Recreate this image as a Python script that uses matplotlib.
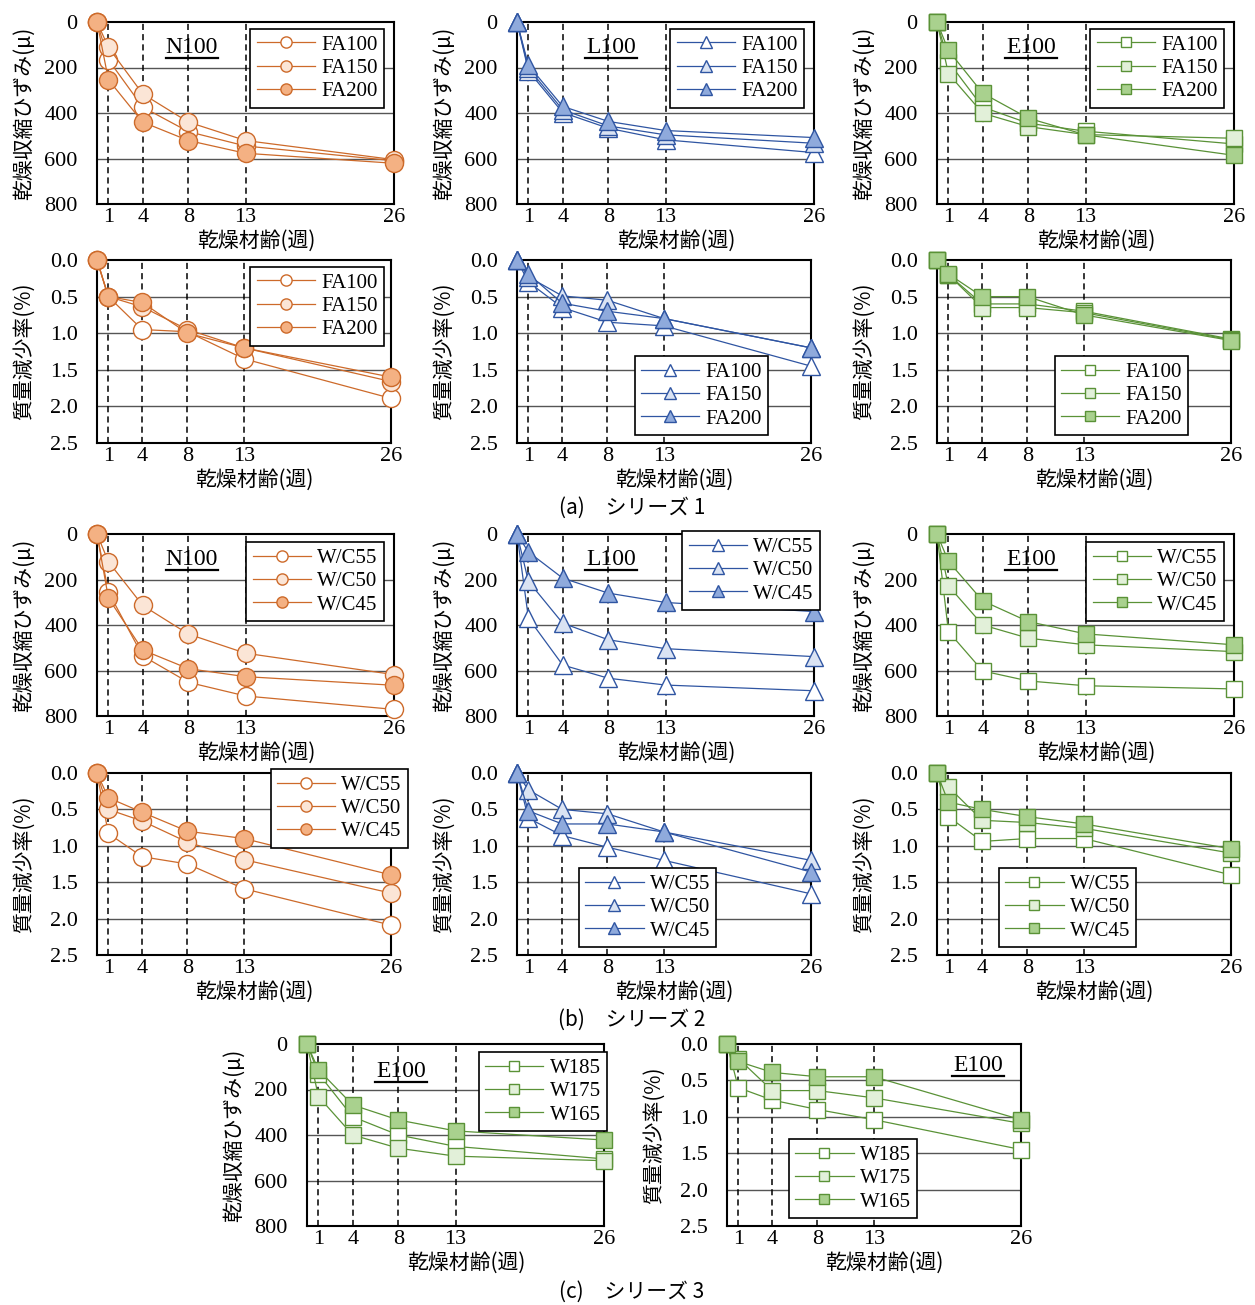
import matplotlib.pyplot as plt

SERIF = ['Liberation Serif', 'DejaVu Serif']
JP = ['Noto Sans CJK JP', 'DejaVu Sans']
plt.rcParams['font.family'] = SERIF

W, H = 1255, 1305

weeks = [0, 1, 4, 8, 13, 26]
week_ticks = [1, 4, 8, 13, 26]

fa_labels = ['FA100', 'FA150', 'FA200']
wc_labels = ['W/C55', 'W/C50', 'W/C45']
w_labels = ['W185', 'W175', 'W165']

# (a) series 1, rows follow fa_labels
n100_strain_1 = [[0, 166, 374, 482, 545, 610],
                 [0, 112, 316, 440, 521, 605],
                 [0, 254, 440, 521, 577, 621]]
n100_mass_1 = [[0, 0.50, 0.95, 0.98, 1.35, 1.89],
               [0, 0.50, 0.64, 0.95, 1.20, 1.66],
               [0, 0.50, 0.58, 1.00, 1.20, 1.60]]
l100_strain_1 = [[0, 215, 398, 467, 518, 574],
                 [0, 203, 386, 457, 496, 533],
                 [0, 190, 371, 437, 477, 508]]
l100_mass_1 = [[0, 0.30, 0.65, 0.85, 0.90, 1.45],
               [0, 0.23, 0.49, 0.55, 0.80, 1.20],
               [0, 0.19, 0.59, 0.70, 0.80, 1.20]]
e100_strain_1 = [[0, 175, 374, 445, 480, 536],
                 [0, 227, 401, 460, 495, 511],
                 [0, 125, 313, 423, 496, 586]]
e100_mass_1 = [[0, 0.20, 0.60, 0.60, 0.70, 1.08],
               [0, 0.20, 0.65, 0.65, 0.72, 1.09],
               [0, 0.19, 0.50, 0.50, 0.75, 1.10]]

# (b) series 2, rows follow wc_labels
n100_strain_2 = [[0, 255, 536, 652, 712, 771],
                 [0, 122, 314, 440, 524, 618],
                 [0, 282, 510, 592, 627, 665]]
n100_mass_2 = [[0, 0.83, 1.15, 1.25, 1.59, 2.09],
               [0, 0.50, 0.66, 0.95, 1.19, 1.65],
               [0, 0.34, 0.54, 0.80, 0.90, 1.40]]
l100_strain_2 = [[0, 370, 576, 634, 664, 689],
                 [0, 208, 392, 465, 504, 539],
                 [0, 79, 194, 260, 301, 341]]
l100_mass_2 = [[0, 0.62, 0.86, 1.02, 1.20, 1.66],
               [0, 0.23, 0.50, 0.56, 0.81, 1.20],
               [0, 0.52, 0.70, 0.70, 0.81, 1.36]]
e100_strain_2 = [[0, 429, 602, 646, 667, 681],
                 [0, 228, 400, 458, 487, 517],
                 [0, 120, 294, 385, 439, 487]]
e100_mass_2 = [[0, 0.60, 0.94, 0.90, 0.90, 1.40],
               [0, 0.19, 0.65, 0.68, 0.76, 1.10],
               [0, 0.40, 0.50, 0.60, 0.70, 1.04]]

# (c) series 3, rows follow w_labels
e100_strain_3 = [[0, 130, 320, 400, 450, 505],
                 [0, 231, 400, 458, 493, 513],
                 [0, 113, 268, 334, 382, 422]]
e100_mass_3 = [[0, 0.60, 0.77, 0.90, 1.04, 1.45],
               [0, 0.20, 0.64, 0.64, 0.74, 1.09],
               [0, 0.24, 0.39, 0.45, 0.45, 1.04]]

ORANGE = ('#CD6A2A', ['white', '#FBE5D6', '#F4B183'], 'o', 13)
BLUE = ('#2F55A2', ['white', '#DAE3F3', '#8FAADC'], '^', 13)
GREEN = ('#5A9237', ['white', '#E2F0D9', '#A9D18E'], 's', 11.5)

fig = plt.figure(figsize=(W / 100, H / 100), dpi=100)


def px(l, t, w, h):
    return [l / W, 1 - (t + h) / H, w / W, h / H]


def panel(rect, kind, data, labels, style, leg_loc, leg_xy, tag=None, tag_xy=None):
    color, fills, marker, ms = style
    ax = fig.add_axes(rect)
    for vals, lab, fc in zip(data, labels, fills):
        ax.plot(weeks, vals, color=color, lw=0.9, marker=marker, ms=ms,
                mfc=fc, mec=color, mew=1.0, label=lab, clip_on=False, zorder=4)
    ax.set_xlim(0, 26)
    if kind == 'strain':
        ax.set_ylim(800, 0)
        ax.set_yticks([0, 200, 400, 600, 800])
        ax.set_yticklabels(['0', '200', '400', '600', '800'], family=SERIF, fontsize=16)
        grid = [200, 400, 600]
        ax.set_ylabel('乾燥収縮ひずみ(μ)', family=JP, fontsize=15)
    else:
        ax.set_ylim(2.5, 0)
        ax.set_yticks([0, 0.5, 1.0, 1.5, 2.0, 2.5])
        ax.set_yticklabels(['0.0', '0.5', '1.0', '1.5', '2.0', '2.5'], family=SERIF, fontsize=16)
        grid = [0.5, 1.0, 1.5, 2.0]
        ax.set_ylabel('質量減少率(%)', family=JP, fontsize=15)
    for g in grid:
        ax.axhline(g, color='#555555', lw=1.0, zorder=1)
    for wk in week_ticks[:-1]:
        ax.axvline(wk, color='black', lw=1.1, ls=(0, (4.0, 2.7)), zorder=2)
    ax.set_xticks(week_ticks)
    ax.set_xticklabels([str(t) for t in week_ticks], family=SERIF, fontsize=16)
    ax.tick_params(length=0)
    ax.tick_params(axis='y', pad=14)
    ax.tick_params(axis='x', pad=3)
    ax.set_xlabel('乾燥材齢(週)', family=JP, fontsize=15)
    ax.xaxis.set_label_coords(0.535, -0.14)
    ax.yaxis.set_label_coords(-0.21, 0.5)
    for s in ax.spines.values():
        s.set_linewidth(1.5)
    leg = ax.legend(loc=leg_loc, bbox_to_anchor=leg_xy, frameon=True, fancybox=False,
                    edgecolor='black', framealpha=1, prop={'family': SERIF, 'size': 15},
                    markerscale=0.62, handlelength=2.8, handletextpad=0.3,
                    labelspacing=0.18, borderpad=0.3, borderaxespad=0)
    leg.get_frame().set_linewidth(1.2)
    leg.set_zorder(6)
    if tag:
        tx, ty = tag_xy
        ax.text(tx, ty, tag, transform=ax.transAxes, ha='center', va='center',
                family=SERIF, fontsize=17, zorder=5)
        # underline below the tag
        ax.plot([tx - 0.088, tx + 0.088], [ty - 0.058, ty - 0.058], color='black',
                lw=1.6, transform=ax.transAxes, clip_on=False, zorder=5)
    return ax


UR = (0.966, 0.962)
# (a)
panel(px(97, 22, 297, 182), 'strain', n100_strain_1, fa_labels, ORANGE, 'upper right', UR, 'N100', (0.32, 0.86))
panel(px(517, 22, 297, 182), 'strain', l100_strain_1, fa_labels, BLUE, 'upper right', UR, 'L100', (0.316, 0.86))
panel(px(937, 22, 297, 182), 'strain', e100_strain_1, fa_labels, GREEN, 'upper right', UR, 'E100', (0.316, 0.86))
panel(px(97, 260, 294, 183), 'mass', n100_mass_1, fa_labels, ORANGE, 'upper right', (0.976, 0.962))
panel(px(517, 260, 294, 183), 'mass', l100_mass_1, fa_labels, BLUE, 'lower left', (0.40, 0.044))
panel(px(937, 260, 294, 183), 'mass', e100_mass_1, fa_labels, GREEN, 'lower left', (0.40, 0.044))

# (b)
panel(px(97, 534, 297, 182), 'strain', n100_strain_2, wc_labels, ORANGE, 'upper right', (0.966, 0.956), 'N100', (0.32, 0.86))
panel(px(517, 534, 297, 182), 'strain', l100_strain_2, wc_labels, BLUE, 'upper right', (1.02, 1.016), 'L100', (0.316, 0.86))
panel(px(937, 534, 297, 182), 'strain', e100_strain_2, wc_labels, GREEN, 'upper right', (0.966, 0.956), 'E100', (0.316, 0.86))
panel(px(97, 773, 294, 182), 'mass', n100_mass_2, wc_labels, ORANGE, 'upper right', (1.058, 1.022))
panel(px(517, 773, 294, 182), 'mass', l100_mass_2, wc_labels, BLUE, 'lower left', (0.211, 0.044))
panel(px(937, 773, 294, 182), 'mass', e100_mass_2, wc_labels, GREEN, 'lower left', (0.211, 0.044))

# (c)
panel(px(307, 1044, 297, 182), 'strain', e100_strain_3, w_labels, GREEN, 'upper right', (1.01, 0.956), 'E100', (0.316, 0.85))
panel(px(727, 1044, 294, 182), 'mass', e100_mass_3, w_labels, GREEN, 'lower left', (0.211, 0.044), 'E100', (0.854, 0.88))

fig.text(632 / W, 1 - 508 / H, '(a)　シリーズ 1', ha='center', va='center', family=JP, fontsize=15)
fig.text(632 / W, 1 - 1020 / H, '(b)　シリーズ 2', ha='center', va='center', family=JP, fontsize=15)
fig.text(632 / W, 1 - 1292 / H, '(c)　シリーズ 3', ha='center', va='center', family=JP, fontsize=15)

fig.savefig('out.png', dpi=100)
